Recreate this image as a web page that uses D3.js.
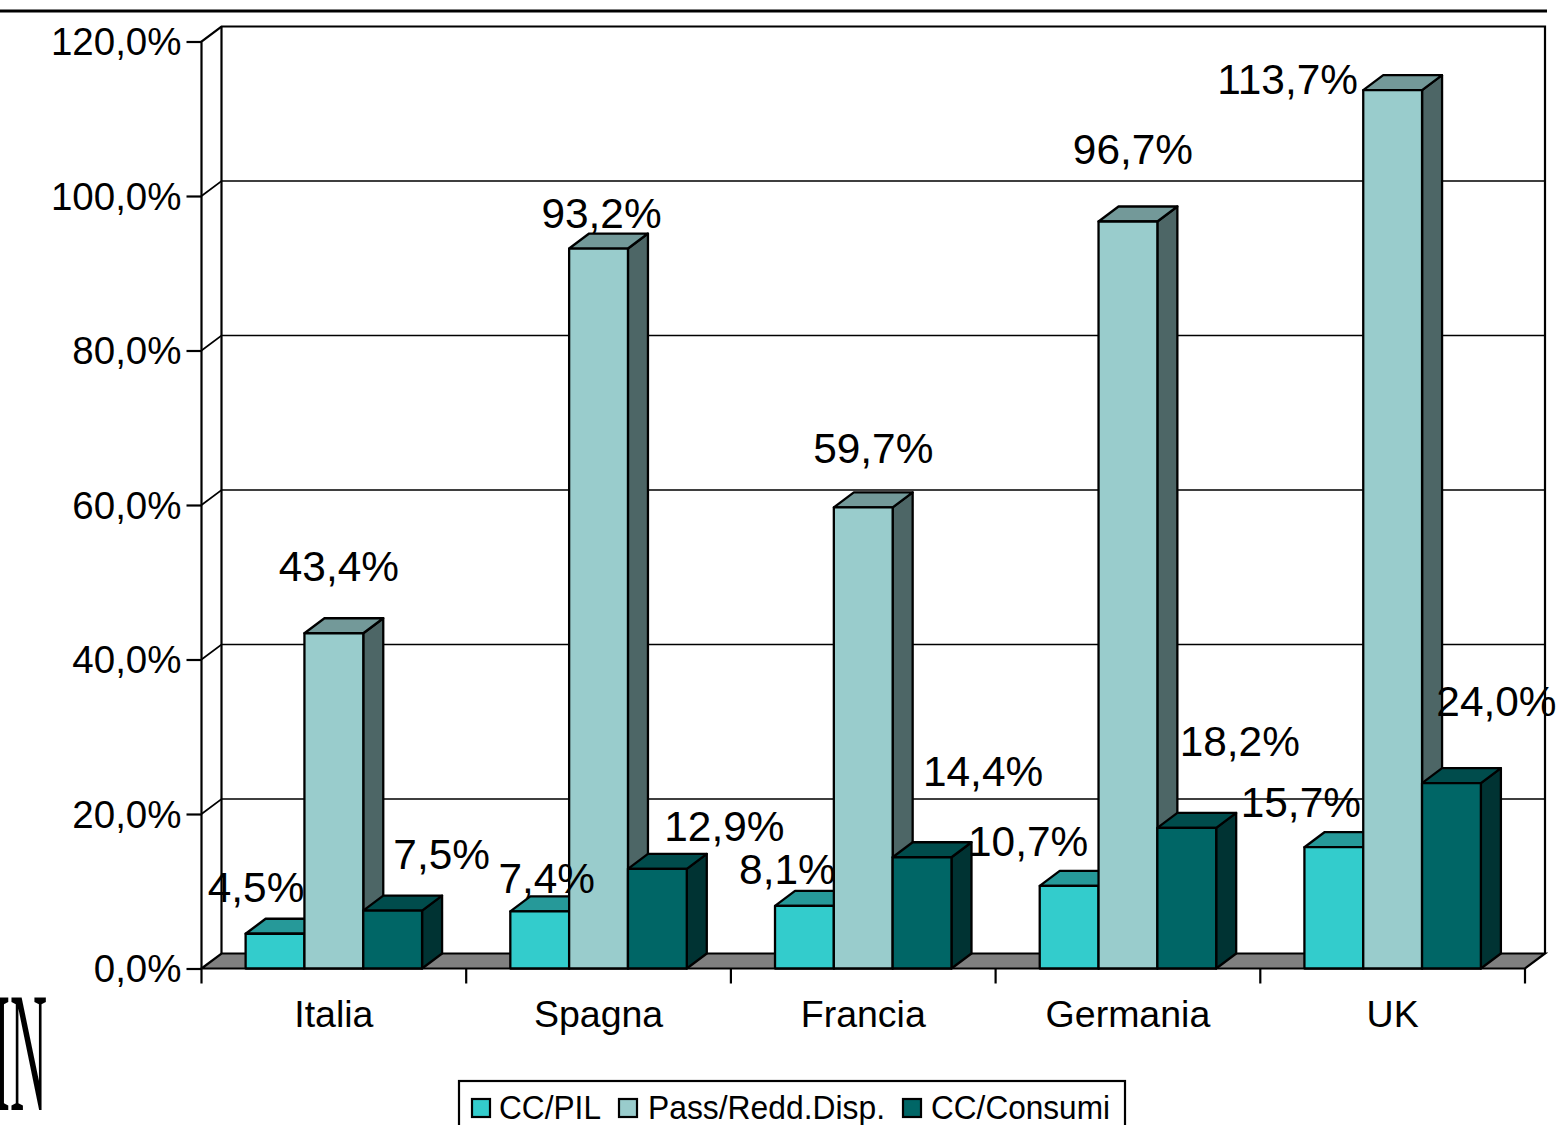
<!DOCTYPE html>
<html><head><meta charset="utf-8">
<script src="https://cdnjs.cloudflare.com/ajax/libs/d3/7.8.5/d3.min.js"></script>
<style>html,body{margin:0;padding:0;background:#fff;overflow:hidden}svg{display:block}text{font-family:"Liberation Sans",Arial,sans-serif;fill:#000}</style>
</head><body><svg id="c" width="1559" height="1125"></svg>
<script>
const categories = ["Italia","Spagna","Francia","Germania","UK"];
const seriesNames = ["CC/PIL","Pass/Redd.Disp.","CC/Consumi"];
const ccPil = [4.5,7.4,8.1,10.7,15.7];
const passRedd = [43.4,93.2,59.7,96.7,113.7];
const ccConsumi = [7.5,12.9,14.4,18.2,24.0];
const yTicks = [0,20,40,60,80,100,120];

const seriesValues = [ccPil,passRedd,ccConsumi];
const faceColors = ["#33CCCC","#99CCCC","#006666"];
const topColors = ["#269999","#739999","#004C4C"];
const sideColors = ["#1A6666","#4D6666","#003333"];
// Hand-placed label offsets from each bar's top centre: [dx, dy] per series, per category
const labelOffsets = [
  [[-19,-32],[7,-18],[-17,-22],[-41,-30],[-33,-30]],
  [[5,-52],[3,-21],[10,-44],[5,-57],[-105,4]],
  [[49,-42],[67,-28],[61,-71],[53,-72],[45,-67]]
];
const depthX = 20, depthY = -15;
const svg = d3.select("#c");
const x = d3.scaleBand().domain(categories).range([201.5,1525]);
const xs = d3.scaleBand().domain(seriesNames).range([0,x.bandwidth()]).paddingInner(0).paddingOuter(0.75);
const y = d3.scaleLinear().domain([0,120]).range([968.5,41.5]);
const it = d3.formatLocale({decimal:",",thousands:".",grouping:[3],currency:["","€"]}).format(".1f");
const pct = v => it(v)+"%";
const poly = pts => pts.map(p=>p.join(",")).join(" ");

// top rule
svg.append("line").attr("x1",0).attr("x2",1547).attr("y1",11).attr("y2",11).attr("stroke","#000").attr("stroke-width",3);

// logo fragment, cut by the left edge
svg.append("text").attr("transform","translate(-7,1110) scale(0.3,1)")
  .attr("font-size",171).style("font-family","'Liberation Serif',serif").text("IN");

const x0 = x.range()[0], x1 = x.range()[1], y0 = y(0), yT = y(120);
// floor
svg.append("polygon").attr("points",poly([[x0,y0],[x0+depthX,y0+depthY],[x1+depthX,y0+depthY],[x1,y0]]))
  .attr("fill","#808080").attr("stroke","#000").attr("stroke-width",2.2);
// walls
const lineG = svg.append("g").attr("stroke","#000").attr("fill","none");
lineG.append("path").attr("stroke-width",2.2)
  .attr("d",`M${x0},${y0}V${yT}L${x0+depthX},${yT+depthY}H${x1+depthX}V${y0+depthY}`);
lineG.append("line").attr("stroke-width",2.2).attr("x1",x0+depthX).attr("x2",x0+depthX).attr("y1",yT+depthY).attr("y2",y0+depthY);
// grid lines
lineG.selectAll("path.g").data(yTicks.filter(t=>t>0&&t<120)).join("path").attr("class","g").attr("stroke-width",1.7)
  .attr("d",t=>`M${x0},${y(t)}L${x0+depthX},${y(t)+depthY}H${x1+depthX}`);

// y axis
const yAxis = d3.axisLeft(y).tickValues(yTicks).tickFormat(pct).tickSize(15).tickPadding(5);
const gy = svg.append("g").attr("transform",`translate(${x0},0)`).call(yAxis);
gy.select(".domain").remove();
gy.selectAll(".tick line").attr("stroke","#000").attr("stroke-width",2.2);
gy.selectAll(".tick text").attr("font-size",38.5).attr("dy","0.35em").style("font-family","'Liberation Sans',Arial,sans-serif");

// x axis
const xAxis = d3.axisBottom(x).tickSize(0).tickPadding(32);
const gx = svg.append("g").attr("transform",`translate(0,${y0})`).call(xAxis);
gx.select(".domain").remove();
gx.selectAll(".tick text").attr("font-size",37.5).style("font-family","'Liberation Sans',Arial,sans-serif");
const edges = categories.map(c=>x(c)).concat([x1]);
svg.append("g").selectAll("line").data(edges).join("line")
  .attr("x1",d=>d).attr("x2",d=>d).attr("y1",y0).attr("y2",y0+15).attr("stroke","#000").attr("stroke-width",2.2);

// bars
const barsG = svg.append("g").attr("stroke","#000").attr("stroke-width",2.3).attr("stroke-linejoin","round");
categories.forEach((c,ci)=>{
  seriesNames.forEach((s,si)=>{
    const l = x(c)+xs(s), r = l+xs.bandwidth(), t = y(seriesValues[si][ci]);
    barsG.append("polygon").attr("fill",sideColors[si])
      .attr("points",poly([[r,y0],[r+depthX,y0+depthY],[r+depthX,t+depthY],[r,t]]));
    barsG.append("polygon").attr("fill",topColors[si])
      .attr("points",poly([[l,t],[l+depthX,t+depthY],[r+depthX,t+depthY],[r,t]]));
    barsG.append("rect").attr("fill",faceColors[si]).attr("x",l).attr("y",t).attr("width",r-l).attr("height",y0-t);
  });
});

// value labels
const labG = svg.append("g").attr("font-size",42.4).attr("text-anchor","middle");
seriesNames.forEach((s,si)=>{
  categories.forEach((c,ci)=>{
    const v = seriesValues[si][ci], o = labelOffsets[si][ci];
    labG.append("text").attr("x",x(c)+xs(s)+xs.bandwidth()/2+o[0]).attr("y",y(v)+o[1]).text(pct(v));
  });
});

// legend
const lg = svg.append("g");
lg.append("rect").attr("x",459).attr("y",1081).attr("width",666).attr("height",60).attr("fill","#fff").attr("stroke","#000").attr("stroke-width",2.2);
const swatchX = [472,619,903], textX = [499,648,931], textW = [102,237,179];
seriesNames.forEach((s,i)=>{
  lg.append("rect").attr("x",swatchX[i]).attr("y",1099).attr("width",18).attr("height",18)
    .attr("fill",faceColors[i]).attr("stroke","#000").attr("stroke-width",2.2);
  lg.append("text").attr("x",textX[i]).attr("y",1118.5).attr("font-size",33)
    .attr("textLength",textW[i]).attr("lengthAdjust","spacingAndGlyphs").text(s);
});
</script></body></html>
